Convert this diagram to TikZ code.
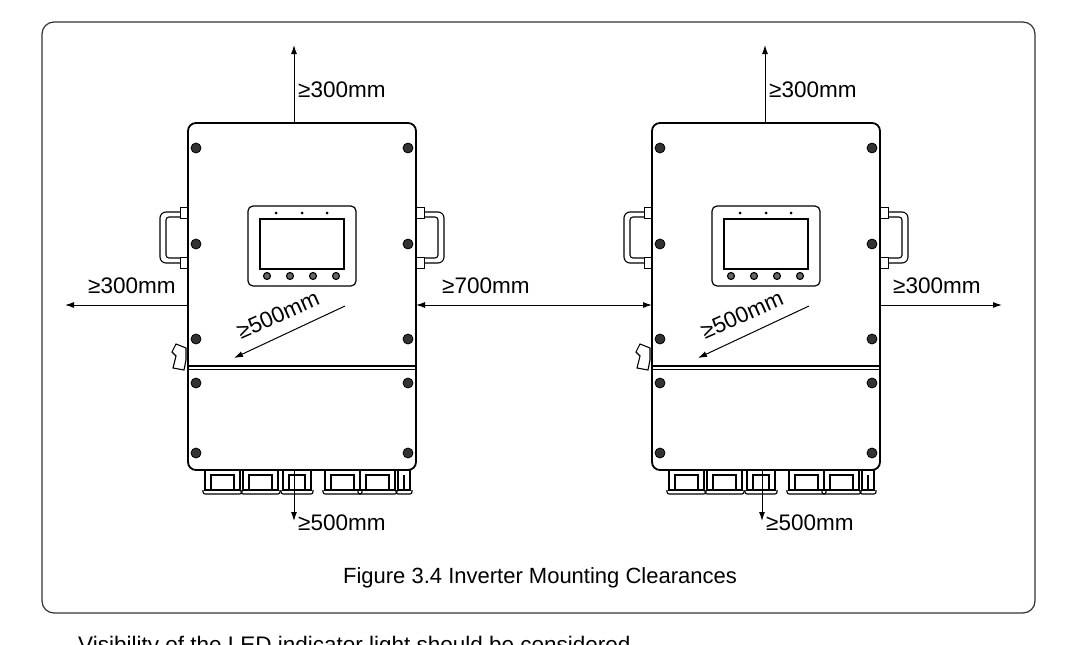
\documentclass[tikz,border=0pt]{standalone}
\usepackage{fontspec}
\setmainfont{Liberation Sans}
\usetikzlibrary{arrows.meta}
\begin{document}
\begin{tikzpicture}[x=1pt,y=-1pt,
  lbl/.style={font=\fontsize{22.5}{26}\selectfont, inner sep=0pt},
  dim/.style={line width=1pt,-{Latex[length=9pt,width=6pt]}},
  body/.style={line width=1.8pt},
  screw/.style={fill=black!80,draw=black,line width=0.8pt}]
\useasboundingbox (0,0) rectangle (1077,645);
\fill[white] (0,0) rectangle (1077,645);
\draw[line width=1.2pt,rounded corners=12pt,draw=black!80] (42,22) rectangle (1035,613);
\tikzset{pics/inverter/.style={code={
  \foreach \s/\hx in {-1/188,1/416}{
    \draw[line width=1.1pt,rounded corners=6pt] (\hx,212) -- (\hx+\s*28,212) -- (\hx+\s*28,263) -- (\hx,263);
    \draw[line width=1.1pt,rounded corners=3pt] (\hx,217) -- (\hx+\s*22,217) -- (\hx+\s*22,258) -- (\hx,258);
    \draw[line width=0.9pt,fill=white] (\hx,207) rectangle (\hx+\s*8,218);
    \draw[line width=0.9pt,fill=white] (\hx,257) rectangle (\hx+\s*8,268);
  }
  \draw[line width=1.1pt,fill=white] (186,348) -- (176,344) -- (172,352) -- (176,356) -- (173,368) -- (184,370) -- (186,360) -- cycle;
  \foreach \gx/\gw in {205/35,243/35,283/28,325/35,360/35,398/12}{
    \draw[line width=1.1pt,fill=white] (\gx,470) rectangle (\gx+\gw,490);
    \draw[line width=1.1pt] (\gx+6,475) rectangle (\gx+\gw-6,490);
    \draw[line width=1.1pt,rounded corners=2pt] (\gx-2,490) -- (\gx-2,494) -- (\gx+\gw+2,494) -- (\gx+\gw+2,490);
  }
  \draw[body,fill=white,rounded corners=8pt] (188,123) rectangle (416,470);
  \draw[line width=1.4pt] (188,366) -- (416,366);
  \draw[line width=0.9pt] (188,369) -- (416,369);
  \foreach \sy in {148,244,339,383,453}{
    \fill[screw] (196,\sy) circle (5pt);
    \fill[screw] (408,\sy) circle (5pt);
  }
  \draw[line width=1.2pt,rounded corners=5pt] (248,206) rectangle (356,286);
  \draw[line width=1.2pt] (260,219) rectangle (344,269);
  \foreach \dx in {276,302,327} \fill (\dx,213) circle (1.5pt);
  \foreach \bx in {267,290,313,336} \draw[line width=1.1pt,fill=black!60] (\bx,276) circle (3.5pt);
}}}
\pic at (0,0) {inverter};
\pic at (464,0) {inverter};
\coordinate (Lt) at (294,123); \coordinate (Lt2) at (294,45);
\coordinate (Lb) at (294,470); \coordinate (Lb2) at (294,521);
\coordinate (Ll) at (188,305); \coordinate (Ll2) at (65,305);
\coordinate (Lr) at (416,305); \coordinate (Rl) at (652,305);
\coordinate (Rt) at (765,123); \coordinate (Rt2) at (765,45);
\coordinate (Rb) at (762,470); \coordinate (Rb2) at (762,521);
\coordinate (Rr) at (880,305); \coordinate (Rr2) at (1002,305);
\coordinate (Ld1) at (345,306); \coordinate (Ld2) at (234,358);
\coordinate (Rd1) at (809,306); \coordinate (Rd2) at (698,358);
\draw[dim] (Lt) -- (Lt2); \draw[dim] (Lb) -- (Lb2);
\draw[dim] (Ll) -- (Ll2);
\draw[dim,{Latex[length=9pt,width=6pt]}-{Latex[length=9pt,width=6pt]}] (Lr) -- (Rl);
\draw[dim] (Rt) -- (Rt2); \draw[dim] (Rb) -- (Rb2);
\draw[dim] (Rr) -- (Rr2);
\draw[dim] (Ld1) -- (Ld2); \draw[dim] (Rd1) -- (Rd2);
\node[lbl,anchor=west] (t1) at (298,90) {≥300mm};
\node[lbl,anchor=west] (t2) at (769,90) {≥300mm};
\node[lbl,anchor=west] (t3) at (88,286) {≥300mm};
\node[lbl,anchor=west] (t4) at (442,286) {≥700mm};
\node[lbl,anchor=west] (t5) at (893,286) {≥300mm};
\node[lbl,anchor=west] (t6) at (298,523) {≥500mm};
\node[lbl,anchor=west] (t7) at (766,523) {≥500mm};
\node[lbl,rotate=24] (t8) at (278,315) {≥500mm};
\node[lbl,rotate=24] (t9) at (742,315) {≥500mm};
\node[lbl,font=\fontsize{22}{26}\selectfont] (cap) at (540,578) {Figure 3.4 Inverter Mounting Clearances};
\node[lbl,anchor=north west] (vis) at (78,636) {Visibility of the LED indicator light should be considered.};
\end{tikzpicture}
\end{document}
